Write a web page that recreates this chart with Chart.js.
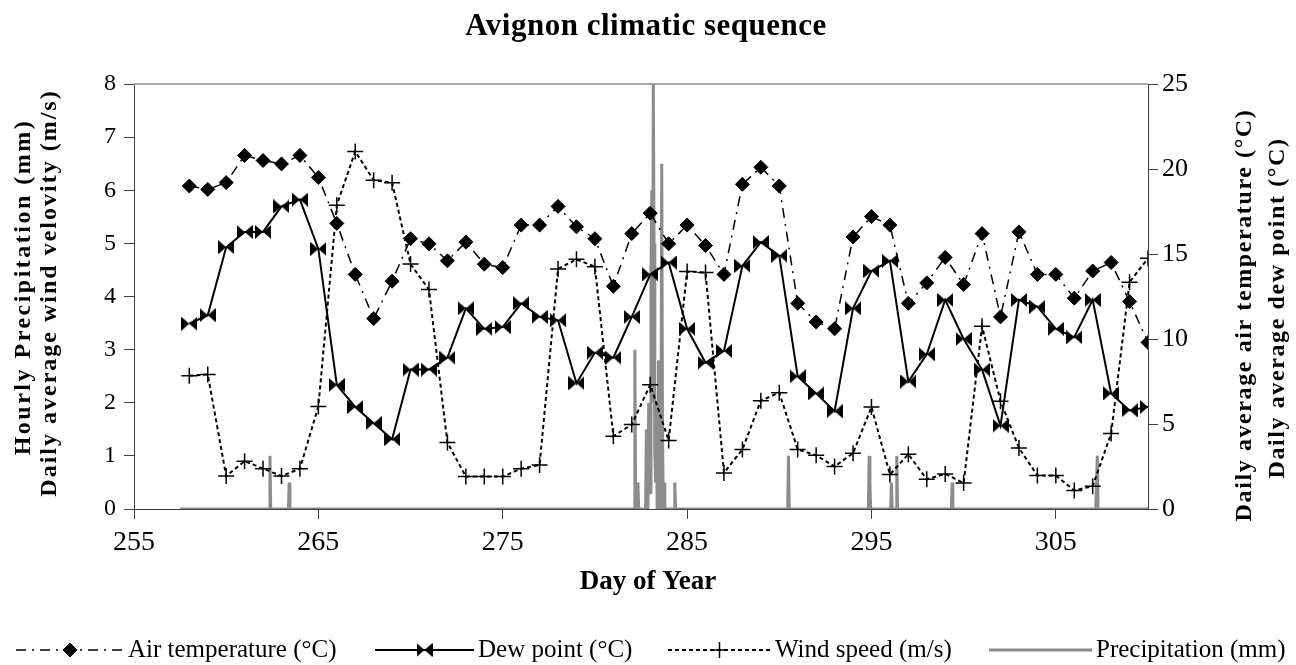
<!DOCTYPE html>
<html>
<head>
<meta charset="utf-8">
<script src="https://cdn.jsdelivr.net/npm/chart.js@4/dist/chart.umd.min.js"></script>
<style>
  body { margin: 0; background: #fff; }
  #wrap { width: 1296px; height: 665px; }
</style>
</head>
<body>
<div id="wrap"><canvas id="mycanvas"></canvas></div>
<script>
// daily series
var days = [258, 259, 260, 261, 262, 263, 264, 265, 266, 267, 268, 269, 270, 271, 272, 273, 274, 275,
            276, 277, 278, 279, 280, 281, 282, 283, 284, 285, 286, 287, 288, 289, 290, 291, 292, 293,
            294, 295, 296, 297, 298, 299, 300, 301, 302, 303, 304, 305, 306, 307, 308, 309, 310];
var airTemp = [19.0, 18.8, 19.2, 20.8, 20.5, 20.3, 20.8, 19.5, 16.8, 13.8, 11.2, 13.4, 15.9, 15.6, 14.6, 15.7, 14.4, 14.2,
               16.7, 16.7, 17.8, 16.6, 15.9, 13.1, 16.2, 17.4, 15.6, 16.7, 15.5, 13.8, 19.1, 20.1, 19.0, 12.1, 11.0, 10.6,
               16.0, 17.2, 16.7, 12.1, 13.3, 14.8, 13.2, 16.2, 11.3, 16.3, 13.8, 13.8, 12.4, 14.0, 14.5, 12.2, 9.8];
var dewPoint = [10.9, 11.4, 15.4, 16.3, 16.3, 17.8, 18.2, 15.3, 7.3, 6.0, 5.05, 4.1, 8.2, 8.2, 8.9, 11.8, 10.6, 10.7,
                12.1, 11.3, 11.1, 7.4, 9.2, 8.9, 11.3, 13.8, 14.5, 10.6, 8.6, 9.3, 14.3, 15.7, 14.9, 7.8, 6.8, 5.75,
                11.8, 14.0, 14.6, 7.5, 9.1, 12.3, 10.0, 8.2, 4.9, 12.3, 11.9, 10.6, 10.1, 12.3, 6.8, 5.8, 6.0];
var windSpeed = [2.51, 2.53, 0.62, 0.90, 0.76, 0.62, 0.76, 1.93, 5.72, 6.73, 6.19, 6.14, 4.61, 4.13, 1.25, 0.61, 0.61, 0.61,
                 0.76, 0.83, 4.52, 4.70, 4.56, 1.37, 1.59, 2.34, 1.29, 4.47, 4.45, 0.68, 1.12, 2.04, 2.19, 1.12, 1.01, 0.80,
                 1.05, 1.92, 0.65, 1.03, 0.56, 0.66, 0.49, 3.44, 2.03, 1.15, 0.63, 0.63, 0.35, 0.43, 1.42, 4.27, 4.72];

// hourly precipitation (day of year, mm); hours not listed between two zeros are dry
var precipDay = [257.5,
  262.333, 262.375, 262.417,
  263.375, 263.417, 263.458,
  282.125, 282.167, 282.208,
  282.292, 282.333, 282.375,
  282.750, 282.792, 282.833, 282.875, 282.917, 282.958, 283.000, 283.042, 283.083, 283.125, 283.167,
  283.208, 283.250, 283.292, 283.333, 283.375, 283.417, 283.458, 283.500, 283.542, 283.583, 283.625,
  283.667, 283.708, 283.750, 283.792,
  284.292, 284.333, 284.375,
  290.458, 290.500, 290.542,
  294.833, 294.875, 294.917, 294.958,
  296.042, 296.083, 296.125,
  296.333, 296.375, 296.417,
  299.333, 299.375, 299.417,
  307.167, 307.208, 307.250, 307.292,
  310.0];
var precipMm = [0,
  0, 1.0, 0,
  0, 0.5, 0,
  0, 3.0, 0,
  0, 0.5, 0,
  0, 1.5, 0.8, 0, 2.0, 1.5, 0.3, 4.5, 6.0, 2.0, 8.0,
  5.0, 1.0, 0.5, 2.0, 0, 1.0, 2.8, 0.5, 0, 1.5, 6.5,
  1.5, 0, 0.5, 0,
  0, 0.5, 0,
  0, 1.0, 0,
  0, 1.0, 0.5, 0,
  0, 0.5, 0,
  0, 1.0, 0,
  0, 0.5, 0,
  0, 0.5, 1.0, 0,
  0];

var dayTicks = [255, 265, 275, 285, 295, 305];

var serif = "'Liberation Serif', 'Times New Roman', serif";

function pts(xs, ys) {
  var out = [];
  for (var i in xs) {
    out.push({x: xs[i], y: ys[i]});
  }
  return out;
}

// bow-tie marker for the dew point
var bow = document.createElement('canvas');
bow.width = 16;
bow.height = 14;
var bctx = bow.getContext('2d');
bctx.fillStyle = '#000';
bctx.beginPath();
bctx.moveTo(0, 0); bctx.lineTo(8, 7); bctx.lineTo(0, 14); bctx.closePath();
bctx.moveTo(16, 0); bctx.lineTo(8, 7); bctx.lineTo(16, 14); bctx.closePath();
bctx.fill();

var legendItems = [
  {ds: 0, x0: 16, x1: 124, text: 'Air temperature (\u00B0C)'},
  {ds: 1, x0: 375, x1: 474, text: 'Dew point (\u00B0C)'},
  {ds: 2, x0: 668, x1: 771, text: 'Wind speed (m/s)'},
  {ds: 3, x0: 989, x1: 1092, text: 'Precipitation (mm)'}
];

function rotText(ctx, text, x, y) {
  ctx.save();
  ctx.translate(x, y);
  ctx.rotate(-Math.PI / 2);
  ctx.fillText(text, 0, 0);
  ctx.restore();
}

var extras = {
  id: 'extras',
  beforeDatasetsDraw: function(chart) {
    var ctx = chart.ctx, a = chart.chartArea;
    ctx.save();
    ctx.strokeStyle = '#a6a6a6';
    ctx.lineWidth = 2;
    ctx.beginPath();
    ctx.moveTo(a.left, a.top);
    ctx.lineTo(a.right, a.top);
    ctx.stroke();
    ctx.restore();
  },
  afterDraw: function(chart) {
    var ctx = chart.ctx, a = chart.chartArea;
    ctx.save();
    ctx.fillStyle = '#000';
    ctx.textAlign = 'center';
    ctx.textBaseline = 'middle';

    // title
    ctx.font = 'bold 31px ' + serif;
    ctx.letterSpacing = '0.5px';
    ctx.fillText('Avignon climatic sequence', 646, 27);

    // x title
    ctx.font = 'bold 27px ' + serif;
    ctx.letterSpacing = '0px';
    ctx.fillText('Day of Year', 648, 582);

    // y titles
    ctx.font = 'bold 24px ' + serif;
    ctx.letterSpacing = '2.5px';
    rotText(ctx, 'Hourly Precipitation (mm)', 24, 287);
    ctx.letterSpacing = '2px';
    rotText(ctx, 'Daily average wind velovity (m/s)', 50, 293);
    ctx.letterSpacing = '1.6px';
    rotText(ctx, 'Daily average air temperature (\u00B0C)', 1245, 315);
    rotText(ctx, 'Daily average dew point (\u00B0C)', 1278, 308);
    ctx.letterSpacing = '0px';

    // legend
    var ly = 650;
    ctx.font = '25px ' + serif;
    ctx.textAlign = 'left';
    legendItems.forEach(function(it) {
      var ds = chart.data.datasets[it.ds];
      ctx.save();
      ctx.strokeStyle = ds.borderColor;
      ctx.lineWidth = ds.borderWidth;
      ctx.setLineDash(ds.borderDash || []);
      ctx.beginPath();
      ctx.moveTo(it.x0, ly);
      ctx.lineTo(it.x1, ly);
      ctx.stroke();
      ctx.setLineDash([]);
      if (ds.pointRadius > 0) {
        ctx.fillStyle = ds.pointBackgroundColor;
        ctx.strokeStyle = ds.pointBorderColor;
        ctx.lineWidth = ds.pointBorderWidth;
        Chart.helpers.drawPoint(ctx, {
          pointStyle: ds.pointStyle,
          radius: ds.pointRadius,
          rotation: 0,
          borderWidth: ds.pointBorderWidth
        }, (it.x0 + it.x1) / 2, ly);
      }
      ctx.restore();
      ctx.fillText(it.text, it.x1 + 4, ly);
    });
    ctx.restore();
  }
};

var ctx = document.getElementById('mycanvas');
var chart = new Chart(ctx, {
  type: 'line',
  data: {
    datasets: [
      {
        label: 'Air temperature (\u00B0C)',
        data: pts(days, airTemp),
        yAxisID: 'yR',
        borderColor: '#000',
        borderWidth: 1.5,
        borderDash: [10, 6, 2, 6],
        pointStyle: 'rectRot',
        pointRadius: 7,
        pointBackgroundColor: '#000',
        pointBorderColor: '#000',
        pointBorderWidth: 1,
        tension: 0
      },
      {
        label: 'Dew point (\u00B0C)',
        data: pts(days, dewPoint),
        yAxisID: 'yR',
        borderColor: '#000',
        borderWidth: 2,
        pointStyle: bow,
        pointRadius: 7,
        pointBackgroundColor: '#000',
        pointBorderColor: '#000',
        pointBorderWidth: 0,
        tension: 0
      },
      {
        label: 'Wind speed (m/s)',
        data: pts(days, windSpeed),
        yAxisID: 'yL',
        borderColor: '#000',
        borderWidth: 2,
        borderDash: [4, 3],
        pointStyle: 'cross',
        pointRadius: 8,
        pointBackgroundColor: '#000',
        pointBorderColor: '#000',
        pointBorderWidth: 1.5,
        tension: 0
      },
      {
        label: 'Precipitation (mm)',
        data: pts(precipDay, precipMm),
        yAxisID: 'yL',
        borderColor: '#8c8c8c',
        borderWidth: 3,
        borderJoinStyle: 'bevel',
        pointRadius: 0,
        tension: 0
      }
    ]
  },
  options: {
    responsive: true,
    maintainAspectRatio: false,
    animation: false,
    layout: { padding: { top: 84, left: 0, right: 0, bottom: 0 } },
    plugins: {
      legend: { display: false },
      title: { display: false },
      tooltip: { enabled: false }
    },
    scales: {
      x: {
        type: 'linear',
        min: 255,
        max: 310,
        afterBuildTicks: function(scale) {
          scale.ticks = dayTicks.map(function(v) { return {value: v}; });
        },
        afterFit: function(scale) { scale.height = 156; },
        grid: { drawOnChartArea: false, tickLength: 10, color: '#404040' },
        border: { color: '#404040', width: 1 },
        ticks: { color: '#000', padding: 7, maxRotation: 0, font: { family: serif, size: 28 } }
      },
      yL: {
        type: 'linear',
        position: 'left',
        min: 0,
        max: 8,
        afterFit: function(scale) { scale.width = 134; },
        grid: { drawOnChartArea: false, tickLength: 10, color: '#404040' },
        border: { color: '#404040', width: 1 },
        ticks: { stepSize: 1, color: '#000', padding: 8, font: { family: serif, size: 24 } }
      },
      yR: {
        type: 'linear',
        position: 'right',
        min: 0,
        max: 25,
        afterFit: function(scale) { scale.width = 148; },
        grid: { drawOnChartArea: false, tickLength: 10, color: '#404040' },
        border: { color: '#404040', width: 1 },
        ticks: { stepSize: 5, color: '#000', padding: 4, font: { family: serif, size: 26 } }
      }
    }
  },
  plugins: [extras]
});
</script>
</body>
</html>
